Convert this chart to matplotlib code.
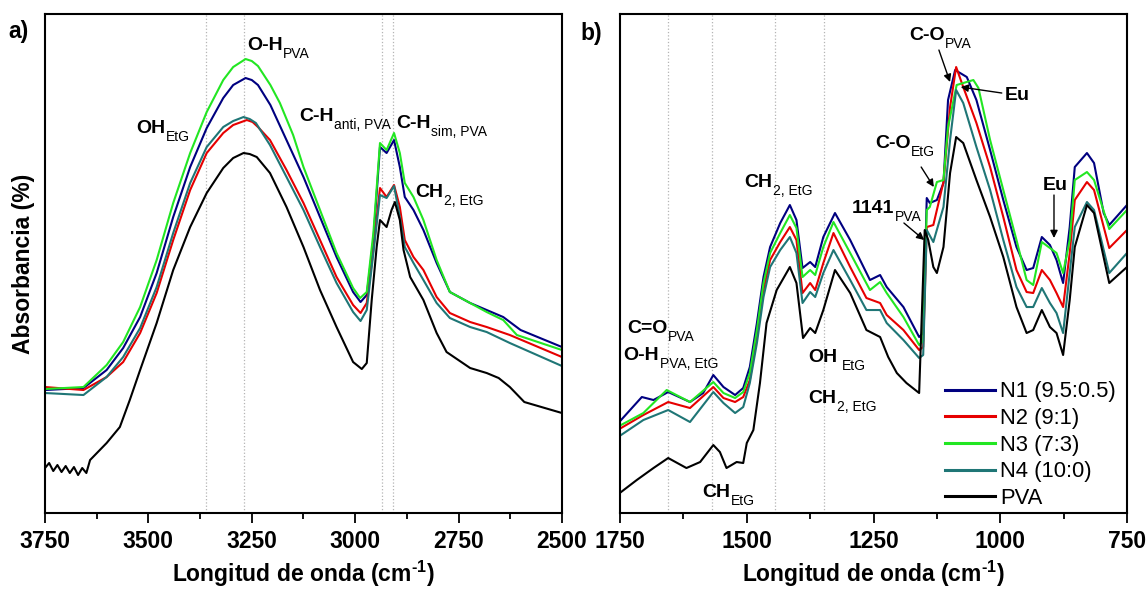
import matplotlib
matplotlib.use("Agg")
import matplotlib.pyplot as plt

plt.rcParams['font.family'] = 'Liberation Sans'
plt.rcParams['mathtext.fontset'] = 'custom'
plt.rcParams['mathtext.rm'] = 'Liberation Sans'
plt.rcParams['mathtext.bf'] = 'Liberation Sans:bold'
plt.rcParams['mathtext.it'] = 'Liberation Sans:italic'

# ---------------- panel a) 3750-2500 cm-1 ----------------
a_n1_x = [3750, 3657, 3601, 3561, 3520, 3480, 3440, 3399, 3359, 3319, 3295, 3265, 3250, 3235, 3205, 3165,
          3125, 3085, 3045, 3005, 2987, 2972, 2956, 2940, 2924, 2906, 2892, 2880, 2859, 2835, 2803, 2771,
          2722, 2682, 2642, 2600, 2500]
a_n1_y = [123, 125, 143, 165, 196, 240, 296, 346, 385, 415, 428, 435, 433, 428, 408, 372,
          336, 296, 256, 221, 211, 218, 273, 366, 360, 373, 346, 316, 303, 283, 250, 221,
          210, 203, 196, 183, 166]

a_n2_x = [3750, 3657, 3601, 3561, 3520, 3480, 3440, 3399, 3359, 3319, 3295, 3262, 3248, 3235, 3206, 3166,
          3125, 3085, 3045, 3005, 2987, 2972, 2956, 2940, 2924, 2906, 2892, 2880, 2859, 2835, 2803, 2771,
          2722, 2682, 2626, 2500]
a_n2_y = [126, 123, 136, 151, 180, 220, 273, 323, 360, 380, 388, 393, 391, 386, 373, 343,
          310, 273, 236, 208, 200, 210, 263, 325, 316, 328, 306, 273, 256, 243, 216, 200,
          191, 186, 178, 156]

a_n3_x = [3750, 3657, 3601, 3561, 3520, 3480, 3440, 3399, 3359, 3319, 3295, 3265, 3250, 3235, 3205, 3182,
          3150, 3125, 3085, 3045, 3005, 2988, 2972, 2956, 2940, 2924, 2906, 2892, 2880, 2859, 2835, 2803,
          2771, 2722, 2682, 2642, 2609, 2500]
a_n3_y = [124, 126, 148, 171, 206, 253, 310, 360, 401, 433, 446, 454, 452, 447, 428, 410,
          378, 346, 303, 260, 225, 215, 221, 280, 370, 363, 380, 360, 330, 316, 293, 253,
          221, 210, 201, 193, 178, 163]

a_n4_x = [3750, 3657, 3601, 3561, 3520, 3480, 3440, 3399, 3359, 3319, 3295, 3270, 3255, 3240, 3206, 3166,
          3125, 3085, 3045, 3005, 2987, 2972, 2956, 2940, 2924, 2906, 2892, 2880, 2859, 2835, 2803, 2771,
          2722, 2682, 2626, 2500]
a_n4_y = [120, 118, 136, 156, 185, 226, 280, 330, 366, 386, 392, 396, 394, 390, 368, 336,
          303, 266, 230, 201, 192, 203, 260, 318, 315, 327, 296, 266, 250, 233, 210, 195,
          186, 181, 170, 147]

a_pva_x = [3750, 3740, 3730, 3720, 3710, 3700, 3690, 3680, 3670, 3660, 3650, 3641, 3601, 3569, 3545, 3520,
           3480, 3440, 3399, 3359, 3319, 3295, 3270, 3255, 3238, 3206, 3166, 3125, 3085, 3045, 3005, 2984,
           2972, 2960, 2948, 2940, 2924, 2912, 2904, 2892, 2883, 2867, 2835, 2803, 2779, 2722, 2682, 2653,
           2626, 2591, 2500]
a_pva_y = [45, 50, 42, 48, 41, 47, 40, 46, 38, 45, 40, 53, 70, 86, 113, 143,
           190, 243, 286, 320, 345, 355, 360, 359, 356, 340, 306, 266, 223, 186, 151, 144,
           150, 213, 266, 293, 286, 303, 311, 293, 263, 236, 213, 180, 161, 145, 140, 135,
           126, 111, 100]

# ---------------- panel b) 1750-750 cm-1 ----------------
b_n1_x = [1748, 1707, 1684, 1655, 1612, 1586, 1566, 1546, 1523, 1507, 1494, 1480, 1467, 1454, 1434, 1415,
          1402, 1390, 1375, 1365, 1349, 1326, 1296, 1257, 1237, 1224, 1191, 1160, 1152, 1145, 1139, 1125,
          1112, 1103, 1089, 1066, 1047, 1020, 994, 968, 948, 935, 918, 902, 889, 876, 863, 853,
          829, 815, 796, 785, 750]
b_n1_y = [93, 116, 113, 121, 111, 120, 138, 126, 118, 125, 146, 190, 236, 266, 290, 308,
          293, 245, 251, 246, 276, 300, 273, 233, 238, 226, 206, 176, 180, 315, 310, 313,
          330, 413, 443, 436, 413, 363, 313, 266, 243, 245, 276, 268, 253, 230, 286, 346,
          360, 350, 300, 288, 308]

b_n2_x = [1748, 1704, 1655, 1612, 1566, 1546, 1523, 1507, 1494, 1480, 1467, 1454, 1434, 1415, 1402, 1390,
          1375, 1365, 1349, 1329, 1296, 1264, 1237, 1224, 1191, 1160, 1152, 1145, 1132, 1112, 1099, 1087,
          1073, 1047, 1020, 994, 968, 948, 935, 918, 902, 889, 876, 863, 853, 829, 815, 785, 750]
b_n2_y = [85, 98, 111, 105, 126, 115, 111, 116, 133, 176, 223, 253, 271, 286, 273, 220,
          230, 223, 250, 280, 246, 215, 210, 198, 183, 163, 166, 286, 288, 331, 406, 446,
          426, 390, 346, 296, 243, 221, 220, 243, 233, 220, 206, 260, 313, 331, 323, 265, 283]

b_n3_x = [1748, 1704, 1658, 1612, 1566, 1546, 1523, 1507, 1494, 1480, 1467, 1454, 1434, 1415, 1402, 1390,
          1375, 1365, 1349, 1329, 1296, 1257, 1237, 1224, 1191, 1160, 1152, 1145, 1139, 1125, 1112, 1103,
          1086, 1073, 1053, 1043, 1020, 994, 968, 948, 935, 918, 902, 889, 876, 863, 853, 829,
          815, 785, 750]
b_n3_y = [88, 100, 123, 111, 131, 120, 115, 121, 140, 183, 230, 260, 280, 298, 285, 236,
          243, 238, 266, 291, 260, 223, 231, 220, 196, 168, 172, 303, 306, 331, 333, 386,
          428, 430, 433, 425, 373, 323, 273, 233, 228, 271, 265, 260, 240, 273, 333, 341,
          333, 284, 303]

b_n4_x = [1748, 1704, 1655, 1612, 1566, 1546, 1523, 1507, 1494, 1480, 1467, 1454, 1434, 1415, 1402, 1390,
          1375, 1365, 1349, 1329, 1296, 1264, 1237, 1224, 1191, 1160, 1152, 1145, 1132, 1112, 1099, 1087,
          1073, 1047, 1020, 994, 968, 948, 935, 918, 902, 889, 876, 863, 853, 829, 815, 785, 750]
b_n4_y = [78, 93, 103, 91, 121, 110, 100, 106, 130, 170, 216, 246, 263, 276, 260, 210,
          221, 216, 240, 263, 233, 203, 203, 190, 173, 155, 158, 283, 271, 306, 373, 423,
          410, 366, 323, 273, 226, 206, 206, 225, 210, 200, 180, 240, 286, 311, 303, 240, 260]

b_pva_x = [1748, 1717, 1684, 1655, 1619, 1592, 1566, 1553, 1540, 1520, 1507, 1500, 1487, 1474, 1461, 1441,
           1415, 1402, 1389, 1375, 1365, 1349, 1326, 1296, 1264, 1237, 1221, 1204, 1185, 1165, 1160, 1149,
           1142, 1132, 1125, 1112, 1099, 1087, 1073, 1047, 1020, 994, 968, 948, 935, 918, 902, 889,
           876, 863, 853, 829, 815, 785, 750]
b_pva_y = [21, 33, 45, 55, 45, 51, 68, 61, 45, 51, 50, 70, 83, 130, 190, 223,
           246, 230, 175, 185, 180, 203, 243, 220, 183, 176, 156, 140, 130, 122, 120, 283,
           273, 246, 240, 266, 340, 376, 370, 333, 296, 256, 206, 180, 183, 203, 186, 180,
           158, 213, 266, 308, 300, 230, 246]

names = ['N1 (9.5:0.5)', 'N2 (9:1)', 'N3 (7:3)', 'N4 (10:0)', 'PVA']
colors = ['#000080', '#e60000', '#22e622', '#1f7676', '#000000']

a_marks = [3360, 3270, 2936, 2908]
b_marks = [1656, 1568, 1444, 1347]


def put_label(ax, x, y, main, sub, gap=0.3):
    # bold main text with a regular, lowered subscript glued to its right edge
    t = ax.text(x, y, main, fontsize=14, fontweight='bold', ha='left', va='baseline')
    ax.annotate(sub, xy=(1, 0), xycoords=t, xytext=(gap, -2.9), textcoords='offset points',
                fontsize=10, ha='left', va='baseline')


def arrow(ax, tip, start):
    ax.annotate('', xy=tip, xytext=start,
                arrowprops=dict(arrowstyle='-|>', color='k', lw=1.0, mutation_scale=11,
                                shrinkA=0, shrinkB=0))


def style_axes(ax, xlim, major, minor):
    ax.set_xlim(*xlim)
    ax.set_ylim(0, 499)
    ax.set_xticks(major)
    ax.set_xticks(minor, minor=True)
    ax.set_yticks([])
    ax.tick_params(axis='x', which='major', direction='out', length=7, width=1.3,
                   labelsize=16.5, pad=5)
    ax.tick_params(axis='x', which='minor', direction='out', length=4.5, width=1.3)
    for lbl in ax.get_xticklabels():
        lbl.set_fontweight('bold')
    for sp in ax.spines.values():
        sp.set_linewidth(1.5)
    ax.set_xlabel('Longitud de onda (cm$^{\\mathbf{\u20101}}$)', fontsize=16.5,
                  fontweight='bold', labelpad=4.5)


fig = plt.figure(figsize=(11.48, 5.89), dpi=100)
ax1 = fig.add_axes([0.0392, 0.1290, 0.4503, 0.8472])
ax2 = fig.add_axes([0.5401, 0.1290, 0.4416, 0.8472])

for m in a_marks:
    ax1.axvline(m, color='#b4b4b4', ls=':', lw=0.9, zorder=0)
for m in b_marks:
    ax2.axvline(m, color='#b4b4b4', ls=':', lw=0.9, zorder=0)

a_series = [(a_n1_x, a_n1_y), (a_n2_x, a_n2_y), (a_n3_x, a_n3_y), (a_n4_x, a_n4_y), (a_pva_x, a_pva_y)]
b_series = [(b_n1_x, b_n1_y), (b_n2_x, b_n2_y), (b_n3_x, b_n3_y), (b_n4_x, b_n4_y), (b_pva_x, b_pva_y)]

for (x, y), c, n in zip(a_series, colors, names):
    ax1.plot(x, y, color=c, lw=1.5, label=n)
for (x, y), c, n in zip(b_series, colors, names):
    ax2.plot(x, y, color=c, lw=1.5, label=n)

style_axes(ax1, (3750, 2500), [3750, 3500, 3250, 3000, 2750, 2500], [3625, 3375, 3125, 2875, 2625])
style_axes(ax2, (1750, 750), [1750, 1500, 1250, 1000, 750], [1625, 1375, 1125, 875])

ax1.set_ylabel('Absorbancia (%)', fontsize=16.5, fontweight='bold')
ax1.yaxis.set_label_coords(-0.02, 0.5)

# panel a labels
put_label(ax1, 3262, 463, 'O-H', 'PVA')
put_label(ax1, 3530, 380, 'OH', 'EtG')
put_label(ax1, 3136, 392, 'C-H', 'anti, PVA')
put_label(ax1, 2901, 385, 'C-H', 'sim, PVA')
put_label(ax1, 2855, 316, 'CH', '2, EtG')

# panel b labels
put_label(ax2, 1180, 473, 'C-O', 'PVA')
put_label(ax2, 1247, 365, 'C-O', 'EtG')
put_label(ax2, 1293, 300, '1141', 'PVA')
put_label(ax2, 1505, 326, 'CH', '2, EtG')
put_label(ax2, 1736, 180, 'C=O', 'PVA')
put_label(ax2, 1743, 153, 'O-H', 'PVA, EtG')
put_label(ax2, 1379, 151, 'OH', 'EtG', gap=3.6)
put_label(ax2, 1379, 110, 'CH', '2, EtG')
put_label(ax2, 1588, 16, 'CH', 'EtG')
ax2.text(991, 413, 'Eu', fontsize=14, fontweight='bold', ha='left', va='baseline')
ax2.text(916, 323, 'Eu', fontsize=14, fontweight='bold', ha='left', va='baseline')

arrow(ax2, (1099, 431), (1121, 463))
arrow(ax2, (1078, 426), (997, 420))
arrow(ax2, (1131, 326), (1156, 346))
arrow(ax2, (1150, 273), (1190, 290))
arrow(ax2, (894, 275), (894, 318))

leg = ax2.legend(loc='lower left', bbox_to_anchor=(0.641, 0.008), frameon=False, fontsize=15.8,
                 handlelength=2.28, handletextpad=0.23, labelspacing=0.26, borderpad=0,
                 borderaxespad=0)
for h in leg.get_lines():
    h.set_linewidth(2.2)

fig.text(0.0157, 0.9457, 'a)', fontsize=16.5, fontweight='bold', ha='center', va='center')
fig.text(0.5148, 0.9423, 'b)', fontsize=16.5, fontweight='bold', ha='center', va='center')

fig.savefig('out.png', dpi=100)
